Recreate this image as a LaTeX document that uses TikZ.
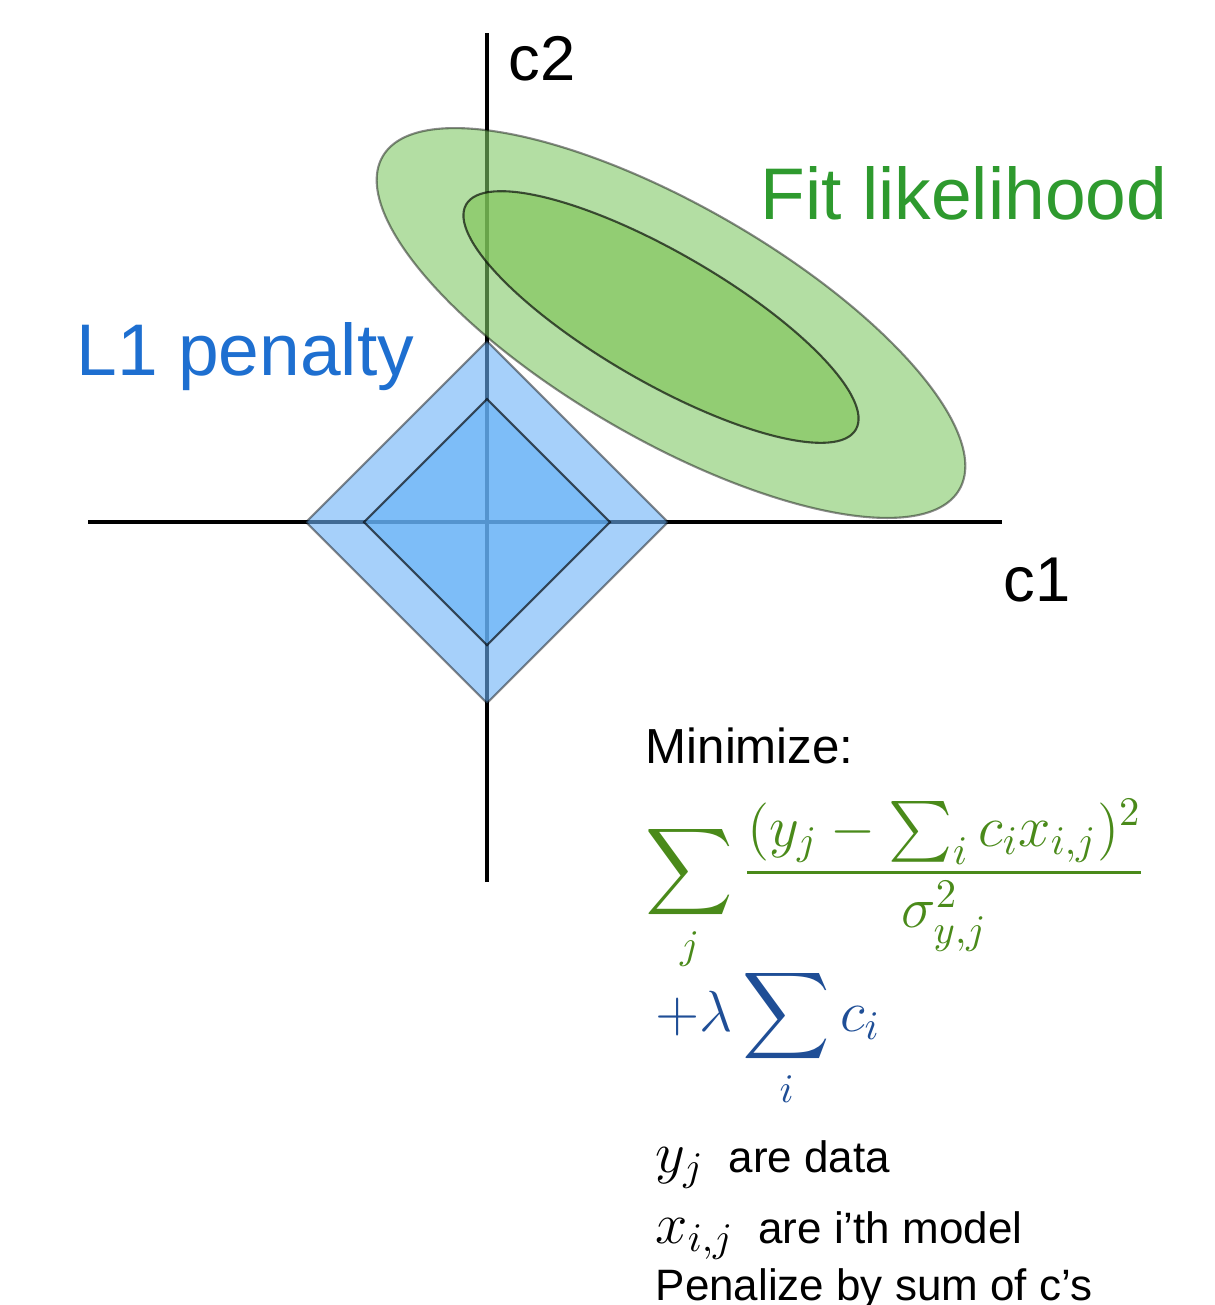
\documentclass[tikz,border=0pt]{standalone}
\usepackage{fix-cm}
\usepackage{amsmath}
\usepackage[no-math]{fontspec}
\setmainfont{Liberation Sans}
\usetikzlibrary{positioning}
\definecolor{gcolor}{HTML}{2E9A2E}
\definecolor{bcolor}{HTML}{1E6FD0}
\definecolor{fgreen}{HTML}{4A8A1A}
\definecolor{fblue}{HTML}{1F4E96}
\definecolor{gout}{RGB}{128,200,102}
\definecolor{gin}{RGB}{124,194,83}
\definecolor{bout}{RGB}{107,177,247}
\definecolor{bin}{RGB}{98,176,247}
\newcommand{\mth}[1]{{\fontsize{16.5}{19}\selectfont$#1$}}

\begin{document}
\begin{tikzpicture}[x=0.01cm, y=-0.01cm,
    axis/.style={line width=0.9pt, black},
    region/.style={fill opacity=0.6, draw=black, draw opacity=0.45, line width=0.6pt},
    core/.style={region, draw opacity=0.65},
    lbl/.style={inner sep=0pt, anchor=base west},
    big/.style={font=\fontsize{20.8}{24}\selectfont},
    small/.style={font=\fontsize{12.5}{15}\selectfont},
    formula/.style={font=\fontsize{16.5}{19}\selectfont},
  ]
    \useasboundingbox (0,0) rectangle (1214,1305);
    % axes
    \coordinate (o) at (487,522);
    \coordinate (xl) at (88,522);
    \coordinate (xr) at (1002,522);
    \coordinate (yt) at (487,33);
    \coordinate (yb) at (487,882);
    \draw[axis] (xl) -- (xr);
    \draw[axis] (yb) -- (yt);

    % L1 penalty
    \draw[region, fill=bout, shift={(o)}] (0,-181) -- (181,0) -- (0,181) -- (-181,0) -- cycle;
    \draw[core, fill=bin, shift={(o)}] (0,-123) -- (123,0) -- (0,123) -- (-123,0) -- cycle;

    % fit likelihood
    \coordinate (eo) at (671,323);
    \coordinate (ei) at (661,317);
    \draw[region, fill=gout, rotate around={-30:(eo)}] (eo) ellipse [x radius=333, y radius=117];
    \draw[core, fill=gin, rotate around={-30:(ei)}] (ei) ellipse [x radius=225, y radius=65];

    \node[lbl, font=\fontsize{18}{20}\selectfont] (c2) at (508,80) {c2};
    \node[lbl, font=\fontsize{18}{20}\selectfont] (c1) at (1003,601) {c1};
    \node[lbl, big, text=gcolor] (fit) at (760,219) {Fit likelihood};
    \node[lbl, big, text=bcolor] (pen) at (76,375) {L1 penalty};

    \node[lbl, font=\fontsize{14}{16}\selectfont] (min) at (645,763) {Minimize:};
    \node[lbl, formula, text=fgreen] (chi) at (645,887)
      {$\displaystyle\sum_j \frac{(y_j-\sum_i c_i x_{i,j})^2}{\sigma_{y,j}^2}$};
    \node[lbl, formula, text=fblue] (lam) at (655,1031)
      {$\displaystyle +\lambda\sum_i c_i$};
    \node[lbl, small] (yj) at (655,1172) {\mth{y_j}\ \ are data};
    \node[lbl, small] (xij) at (655,1243) {\mth{x_{i,j}}\ \ are i’th model};
    \node[lbl, small] (sum) at (655,1300) {Penalize by sum of c’s};
  \end{tikzpicture}
\end{document}
